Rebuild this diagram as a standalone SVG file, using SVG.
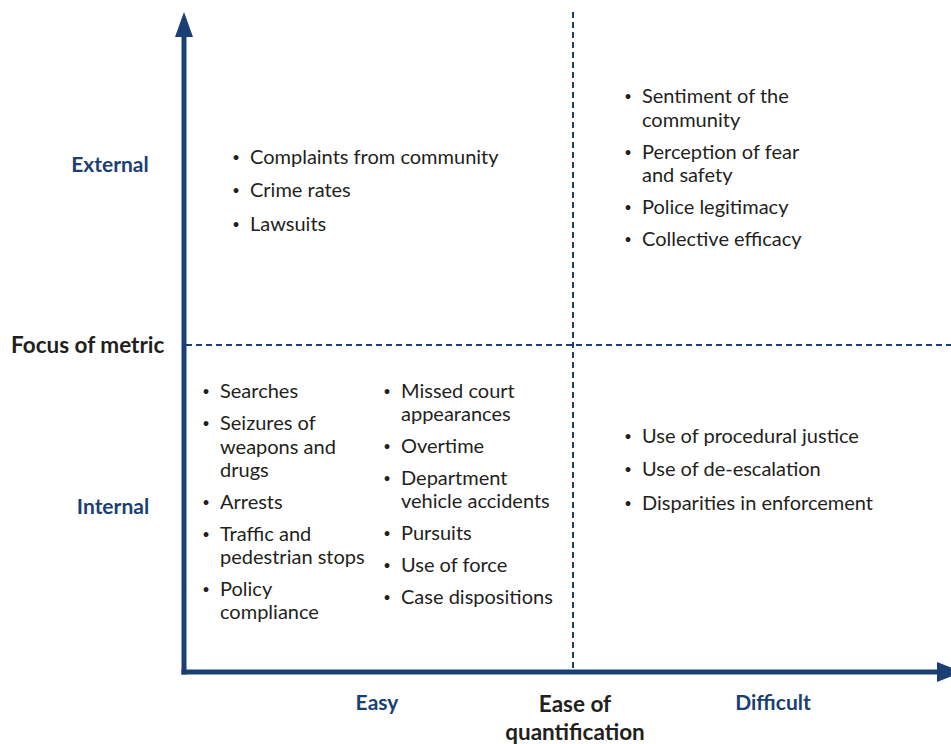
<svg xmlns="http://www.w3.org/2000/svg" width="951" height="744" viewBox="0 0 951 744">
<style>
.t{font-family:Lato,"Open Sans","Liberation Sans",sans-serif;font-size:20px;fill:#231f20}
.b{font-family:Lato,"Open Sans","Liberation Sans",sans-serif;font-size:13px;fill:#231f20}
.lb{font-family:Lato,"Open Sans","Liberation Sans",sans-serif;font-size:21px;font-weight:bold;fill:#1b3f72}
.ax{font-family:Lato,"Open Sans","Liberation Sans",sans-serif;font-size:22.5px;font-weight:bold;fill:#231f20}
.dash{stroke:#1b3f72;stroke-width:2;stroke-dasharray:6 4;fill:none}
.axis{stroke:#1b3f72;stroke-width:5;fill:none}
</style>
<rect width="951" height="744" fill="#fff"/>
<g id="connectors">
<line class="dash" x1="573" y1="12" x2="573" y2="668"/>
<line class="dash" x1="186" y1="345" x2="951" y2="345"/>
<line class="axis" x1="184" y1="34" x2="184" y2="674.5"/>
<line class="axis" x1="181.5" y1="672" x2="940" y2="672"/>
<polygon points="184,12 175,37 193,37" fill="#1b3f72"/>
<polygon points="962,672 937,662 937,682" fill="#1b3f72"/>
</g>
<g id="axis-labels">
<text class="lb" x="110" y="172" text-anchor="middle">External</text>
<text class="lb" x="113" y="514" text-anchor="middle">Internal</text>
<text class="ax" x="11" y="353">Focus of metric</text>
<text class="lb" x="377" y="710" text-anchor="middle">Easy</text>
<text class="lb" x="773" y="710" text-anchor="middle">Difficult</text>
<text class="ax" x="575" y="712" text-anchor="middle">Ease of</text>
<text class="ax" x="575" y="740" text-anchor="middle">quantification</text>
</g>
<g id="q-external-easy">
<text x="236" y="161.5" class="b" text-anchor="middle">•</text><text x="250" y="164" class="t">Complaints from community</text>
<text x="236" y="194.5" class="b" text-anchor="middle">•</text><text x="250" y="197" class="t">Crime rates</text>
<text x="236" y="228.5" class="b" text-anchor="middle">•</text><text x="250" y="231" class="t">Lawsuits</text>
</g>
<g id="q-external-difficult">
<text x="628" y="100.5" class="b" text-anchor="middle">•</text><text x="642" y="103" class="t">Sentiment of the</text>
<text x="642" y="127" class="t">community</text>
<text x="628" y="156.5" class="b" text-anchor="middle">•</text><text x="642" y="159" class="t">Perception of fear</text>
<text x="642" y="182" class="t">and safety</text>
<text x="628" y="211.5" class="b" text-anchor="middle">•</text><text x="642" y="214" class="t">Police legitimacy</text>
<text x="628" y="243.5" class="b" text-anchor="middle">•</text><text x="642" y="246" class="t">Collective efficacy</text>
</g>
<g id="q-internal-easy-1">
<text x="206" y="395.5" class="b" text-anchor="middle">•</text><text x="220" y="398" class="t">Searches</text>
<text x="206" y="427.5" class="b" text-anchor="middle">•</text><text x="220" y="430" class="t">Seizures of</text>
<text x="220" y="454" class="t">weapons and</text>
<text x="220" y="477" class="t">drugs</text>
<text x="206" y="506.5" class="b" text-anchor="middle">•</text><text x="220" y="509" class="t">Arrests</text>
<text x="206" y="538.5" class="b" text-anchor="middle">•</text><text x="220" y="541" class="t">Traffic and</text>
<text x="220" y="564" class="t">pedestrian stops</text>
<text x="206" y="593.5" class="b" text-anchor="middle">•</text><text x="220" y="596" class="t">Policy</text>
<text x="220" y="619" class="t">compliance</text>
</g>
<g id="q-internal-easy-2">
<text x="387" y="395.5" class="b" text-anchor="middle">•</text><text x="401" y="398" class="t">Missed court</text>
<text x="401" y="421" class="t">appearances</text>
<text x="387" y="450.5" class="b" text-anchor="middle">•</text><text x="401" y="453" class="t">Overtime</text>
<text x="387" y="482.5" class="b" text-anchor="middle">•</text><text x="401" y="485" class="t">Department</text>
<text x="401" y="508" class="t">vehicle accidents</text>
<text x="387" y="537.5" class="b" text-anchor="middle">•</text><text x="401" y="540" class="t">Pursuits</text>
<text x="387" y="569.5" class="b" text-anchor="middle">•</text><text x="401" y="572" class="t">Use of force</text>
<text x="387" y="601.5" class="b" text-anchor="middle">•</text><text x="401" y="604" class="t">Case dispositions</text>
</g>
<g id="q-internal-difficult">
<text x="628" y="440.5" class="b" text-anchor="middle">•</text><text x="642" y="443" class="t">Use of procedural justice</text>
<text x="628" y="473.5" class="b" text-anchor="middle">•</text><text x="642" y="476" class="t">Use of de-escalation</text>
<text x="628" y="507.5" class="b" text-anchor="middle">•</text><text x="642" y="510" class="t">Disparities in enforcement</text>
</g>
</svg>
